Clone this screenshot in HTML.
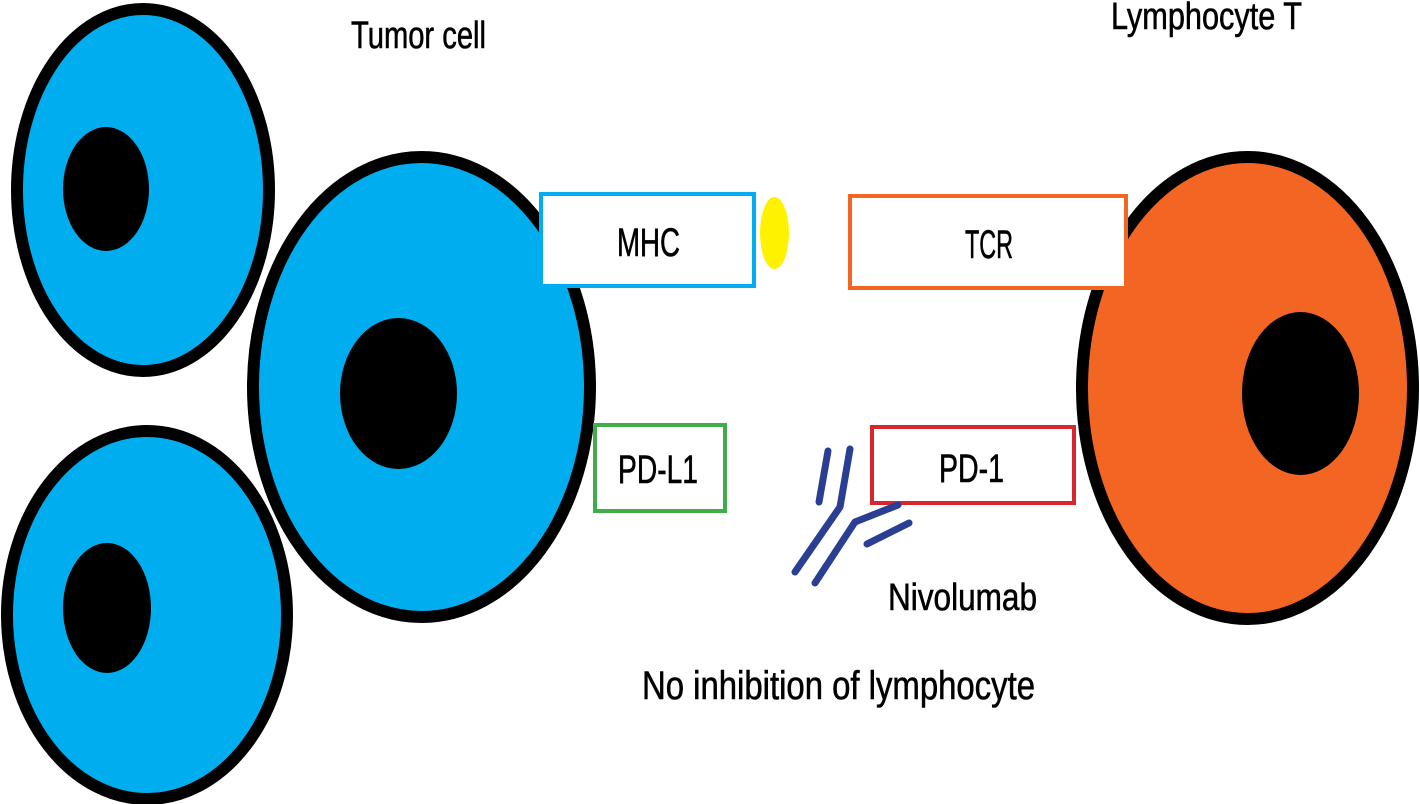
<!DOCTYPE html>
<html>
<head>
<meta charset="utf-8">
<style>
html,body{margin:0;padding:0;background:#fff;}
svg{display:block;}
text{font-family:"Liberation Sans Narrow","Liberation Sans",sans-serif;fill:#000;stroke:#000;stroke-width:0.6px;}
</style>
</head>
<body>
<svg width="1420" height="804" viewBox="0 0 1420 804" xmlns="http://www.w3.org/2000/svg">
  <rect x="0" y="0" width="1420" height="804" fill="#fff"/>

  <!-- Top-left tumor cell -->
  <ellipse cx="143" cy="190" rx="126" ry="181" fill="#00aeef" stroke="#000" stroke-width="12"/>
  <ellipse cx="106" cy="189" rx="43" ry="62" fill="#000"/>

  <!-- Bottom-left tumor cell -->
  <ellipse cx="147" cy="615" rx="140" ry="184" fill="#00aeef" stroke="#000" stroke-width="12"/>
  <ellipse cx="107" cy="608" rx="44" ry="65" fill="#000"/>

  <!-- Middle tumor cell -->
  <ellipse cx="421.5" cy="387" rx="168.5" ry="230" fill="#00aeef" stroke="#000" stroke-width="12"/>
  <ellipse cx="398.5" cy="393.5" rx="58.5" ry="75.5" fill="#000"/>

  <!-- Lymphocyte T -->
  <ellipse cx="1247.5" cy="388" rx="165.5" ry="231" fill="#f26522" stroke="#000" stroke-width="12"/>
  <ellipse cx="1300.5" cy="393.5" rx="58.5" ry="81.5" fill="#000"/>

  <!-- MHC box -->
  <rect x="541" y="194" width="213" height="92" fill="#fff" stroke="#00aeef" stroke-width="4"/>
  <text x="617" y="256" font-size="40" textLength="63" lengthAdjust="spacingAndGlyphs">MHC</text>

  <!-- Antigen -->
  <ellipse cx="774.5" cy="233" rx="14.5" ry="36" fill="#fff200"/>

  <!-- TCR box -->
  <rect x="850" y="196" width="276" height="92" fill="#fff" stroke="#f26522" stroke-width="4"/>
  <text x="965" y="258" font-size="40" textLength="48" lengthAdjust="spacingAndGlyphs">TCR</text>

  <!-- PD-L1 box -->
  <rect x="595" y="425" width="130" height="86" fill="#fff" stroke="#3fae49" stroke-width="4"/>
  <text x="618" y="483" font-size="40" textLength="80" lengthAdjust="spacingAndGlyphs">PD-L1</text>

  <!-- PD-1 box -->
  <rect x="872" y="427" width="202" height="76" fill="#fff" stroke="#d7262e" stroke-width="4"/>
  <text x="939" y="482" font-size="40" textLength="65" lengthAdjust="spacingAndGlyphs">PD-1</text>

  <!-- Nivolumab antibody -->
  <g stroke="#2a3f93" stroke-width="7" stroke-linecap="round" stroke-linejoin="round" fill="none">
    <line x1="828" y1="451" x2="819" y2="502"/>
    <polyline points="850,449 840,507 795,572"/>
    <polyline points="815,583 855,522 898,505"/>
    <line x1="867" y1="544" x2="909" y2="523"/>
  </g>

  <!-- Labels -->
  <text x="351" y="48" font-size="38" textLength="135" lengthAdjust="spacingAndGlyphs">Tumor cell</text>
  <text x="1111" y="29" font-size="38" textLength="191" lengthAdjust="spacingAndGlyphs">Lymphocyte T</text>
  <text x="888" y="610" font-size="38" textLength="149" lengthAdjust="spacingAndGlyphs">Nivolumab</text>
  <text x="642" y="699" font-size="40" textLength="393" lengthAdjust="spacingAndGlyphs">No inhibition of lymphocyte</text>
</svg>
</body>
</html>
